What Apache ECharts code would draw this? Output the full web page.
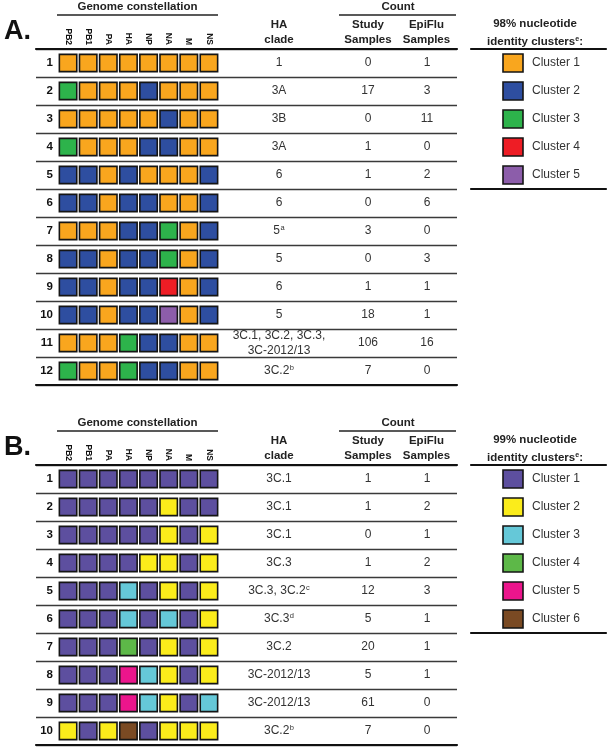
<!DOCTYPE html>
<html><head><meta charset="utf-8">
<script src="https://cdn.jsdelivr.net/npm/echarts@6/dist/echarts.min.js"></script>
<style>html,body{margin:0;padding:0;background:#fff}#c{width:610px;height:750px}</style>
</head><body><div id="c"></div>
<script>
const segments = ['PB2','PB1','PA','HA','NP','NA','M','NS'];

// ---- Panel A ----
const rowsA = ['1','2','3','4','5','6','7','8','9','10','11','12'];
const constellationA = [
  [1,1,1,1,1,1,1,1],
  [3,1,1,1,2,1,1,1],
  [1,1,1,1,1,2,1,1],
  [3,1,1,1,2,2,1,1],
  [2,2,1,2,1,1,1,2],
  [2,2,1,2,2,1,1,2],
  [1,1,1,2,2,3,1,2],
  [2,2,1,2,2,3,1,2],
  [2,2,1,2,2,4,1,2],
  [2,2,1,2,2,5,1,2],
  [1,1,1,3,2,2,1,1],
  [3,1,1,3,2,2,1,1]
];
const cladeA = ['1','3A','3B','3A','6','6','5^a','5','6','5','3C.1, 3C.2, 3C.3,\n3C-2012/13','3C.2^b'];
const studyA = [0,17,0,1,1,0,3,0,1,18,106,7];
const epifluA = [1,3,11,0,2,6,0,3,1,1,16,0];
const clustersA = ['Cluster 1','Cluster 2','Cluster 3','Cluster 4','Cluster 5'];
const colorsA = ['#F9A61E','#2E4EA0','#2DB34B','#EE1D25','#8C5DAA'];
const legendTitleA = ['98% nucleotide','identity clusters^e:'];

// ---- Panel B ----
const rowsB = ['1','2','3','4','5','6','7','8','9','10'];
const constellationB = [
  [1,1,1,1,1,1,1,1],
  [1,1,1,1,1,2,1,1],
  [1,1,1,1,1,2,1,2],
  [1,1,1,1,2,2,1,2],
  [1,1,1,3,1,2,1,2],
  [1,1,1,3,1,3,1,2],
  [1,1,1,4,1,2,1,2],
  [1,1,1,5,3,2,1,2],
  [1,1,1,5,3,2,1,3],
  [2,1,2,6,1,2,2,2]
];
const cladeB = ['3C.1','3C.1','3C.1','3C.3','3C.3, 3C.2^c','3C.3^d','3C.2','3C-2012/13','3C-2012/13','3C.2^b'];
const studyB = [1,1,0,1,12,5,20,5,61,7];
const epifluB = [1,2,1,2,3,1,1,1,0,0];
const clustersB = ['Cluster 1','Cluster 2','Cluster 3','Cluster 4','Cluster 5','Cluster 6'];
const colorsB = ['#5D4F9F','#FBEC1B','#65C8D8','#5DB848','#EC158C','#7A4A23'];
const legendTitleB = ['99% nucleotide','identity clusters^e:'];

// ---- Build ----
const FF = '"Liberation Sans", Arial, Helvetica, sans-serif';
const ROW = 28;
const sup = s => String(s).replace(/\^(\w)/g, '{s|$1}');
const RICH = { s: { fontSize: 7.5, fontFamily: FF, verticalAlign: 'top', lineHeight: 9, fill: '#333', color: '#333', padding: [0,0,0,0.5] } };

const grid = [], xAxis = [], yAxis = [], series = [], graphic = [];

function hiddenX(gi, extra) {
  return Object.assign({ gridIndex: gi, type: 'value', min: 0, max: 1, show: true,
    axisLine: { show: false }, axisTick: { show: false }, axisLabel: { show: false }, splitLine: { show: false } }, extra || {});
}
function catY(gi, data, extra) {
  return Object.assign({ gridIndex: gi, type: 'category', data: data, inverse: true, boundaryGap: true,
    axisLine: { show: false }, axisTick: { show: false }, axisLabel: { show: false }, splitLine: { show: false } }, extra || {});
}
function addGrid(left, width, top, height) {
  grid.push({ left: left, width: width, top: top, height: height, containLabel: false });
  return grid.length - 1;
}

function textColumn(left, width, top, rows, values, style) {
  const gi = addGrid(left, width, top, rows.length * ROW);
  xAxis.push({ gridIndex: gi, type: 'category', data: ['c'], show: false });
  yAxis.push(catY(gi, rows, { show: false }));
  series.push({
    type: 'custom', xAxisIndex: xAxis.length - 1, yAxisIndex: yAxis.length - 1,
    data: rows.map((r, i) => [0, i]),
    renderItem: (params, api) => {
      const c = api.coord([0, api.value(1)]);
      return { type: 'text', style: Object.assign({ text: sup(values[params.dataIndex]), x: c[0], y: c[1],
        align: 'center', verticalAlign: 'middle', fill: '#333', fontFamily: FF, fontSize: 12, lineHeight: 15, rich: RICH }, style || {}) };
    }
  });
}

function buildPanel(p) {
  const T = p.top, n = p.rows.length, H = n * ROW;
  // frame with separators and thick top / bottom lines
  let gi = addGrid(36, 421, T, H);
  xAxis.push(hiddenX(gi, { position: 'top', axisLine: { show: true, onZero: false, lineStyle: { color: '#111', width: 2.2 } } }));
  xAxis.push(hiddenX(gi, { position: 'bottom', axisLine: { show: true, onZero: false, lineStyle: { color: '#111', width: 2.2 } } }));
  yAxis.push(catY(gi, p.rows, { splitLine: { show: true, lineStyle: { color: '#3a3a3a', width: 1.3 } } }));

  // constellation matrix
  gi = addGrid(58, 161, T, H);
  xAxis.push({ gridIndex: gi, type: 'category', data: segments, position: 'top',
    axisLine: { show: false }, axisTick: { show: false },
    axisLabel: { rotate: 90, margin: 4, fontSize: 8.5, fontWeight: 'bold', color: '#111', fontFamily: FF } });
  yAxis.push(catY(gi, p.rows, { axisLabel: { show: true, margin: 5, fontSize: 11.5, fontWeight: 'bold', color: '#111', fontFamily: FF } }));
  const cells = [];
  p.constellation.forEach((row, r) => row.forEach((k, s) => cells.push([s, r, k])));
  const cols = p.colors;
  series.push({
    type: 'custom', xAxisIndex: xAxis.length - 1, yAxisIndex: yAxis.length - 1, data: cells,
    renderItem: (params, api) => {
      const c = api.coord([api.value(0), api.value(1)]);
      const w = 17.4, h = 17.2;
      return { type: 'rect', shape: { x: c[0] - w / 2, y: c[1] - h / 2, width: w, height: h },
        style: { fill: cols[cells[params.dataIndex][2] - 1], stroke: '#151515', lineWidth: 1.6 } };
    }
  });

  // text columns
  textColumn(239, 80, T, p.rows, p.clade);
  textColumn(338, 60, T, p.rows, p.study);
  textColumn(397, 60, T, p.rows, p.epiflu);

  // legend frame
  const L = p.clusters.length;
  gi = addGrid(471, 135, T, L * ROW);
  xAxis.push(hiddenX(gi, { position: 'top', axisLine: { show: true, onZero: false, lineStyle: { color: '#111', width: 2.2 } } }));
  xAxis.push(hiddenX(gi, { position: 'bottom', axisLine: { show: true, onZero: false, lineStyle: { color: '#111', width: 2.2 } } }));
  yAxis.push(catY(gi, p.clusters, { show: false }));

  // legend swatches
  gi = addGrid(503, 20, T, L * ROW);
  xAxis.push({ gridIndex: gi, type: 'category', data: ['s'], show: false });
  yAxis.push(catY(gi, p.clusters, { show: false }));
  const names = p.clusters;
  series.push({
    type: 'custom', xAxisIndex: xAxis.length - 1, yAxisIndex: yAxis.length - 1,
    data: names.map((nm, i) => [0, i]),
    renderItem: (params, api) => {
      const c = api.coord([0, api.value(1)]);
      const w = 20, h = 18;
      return { type: 'group', children: [
        { type: 'rect', shape: { x: c[0] - w / 2, y: c[1] - h / 2, width: w, height: h },
          style: { fill: cols[params.dataIndex], stroke: '#151515', lineWidth: 1.6 } },
        { type: 'text', style: { text: names[params.dataIndex], x: c[0] + w / 2 + 9, y: c[1], align: 'left', verticalAlign: 'middle',
          fill: '#333', fontFamily: FF, fontSize: 12 } }
      ] };
    }
  });

  // headers
  const hb = (txt, x, y, sz, extra) => graphic.push({ type: 'text', silent: true, style: Object.assign({ text: sup(txt), x: x, y: y,
    align: 'center', verticalAlign: 'middle', fill: '#222', fontFamily: FF, fontSize: sz || 11.5, fontWeight: 'bold',
    rich: { s: { fontSize: 7, fontWeight: 'bold', fontFamily: FF, verticalAlign: 'top', lineHeight: 8, fill: '#222' } } }, extra || {}) });
  const ln = (x1, x2, y) => graphic.push({ type: 'line', silent: true, shape: { x1: x1, y1: y, x2: x2, y2: y }, style: { stroke: '#222', lineWidth: 1.4 } });
  hb(p.letter, 4, T - 17, 27, { align: 'left', fill: '#111' });
  hb('Genome constellation', 137.5, T - 42);
  ln(57, 218, T - 34);
  hb('Count', 398, T - 42);
  ln(339, 456, T - 34);
  hb('HA', 279, T - 24); hb('clade', 279, T - 9);
  hb('Study', 368, T - 24); hb('Samples', 368, T - 9);
  hb('EpiFlu', 426.5, T - 24); hb('Samples', 426.5, T - 9);
  hb(p.legendTitle[0], 535, T - 25); hb(p.legendTitle[1], 535, T - 7.5);
}

buildPanel({ letter: 'A.', top: 49, rows: rowsA, constellation: constellationA, clade: cladeA, study: studyA, epiflu: epifluA,
  clusters: clustersA, colors: colorsA, legendTitle: legendTitleA });
buildPanel({ letter: 'B.', top: 465, rows: rowsB, constellation: constellationB, clade: cladeB, study: studyB, epiflu: epifluB,
  clusters: clustersB, colors: colorsB, legendTitle: legendTitleB });

const chart = echarts.init(document.getElementById('c'), null, { renderer: 'canvas' });
chart.setOption({ backgroundColor: '#fff', animation: false, grid: grid, xAxis: xAxis, yAxis: yAxis, series: series, graphic: graphic });
</script></body></html>
